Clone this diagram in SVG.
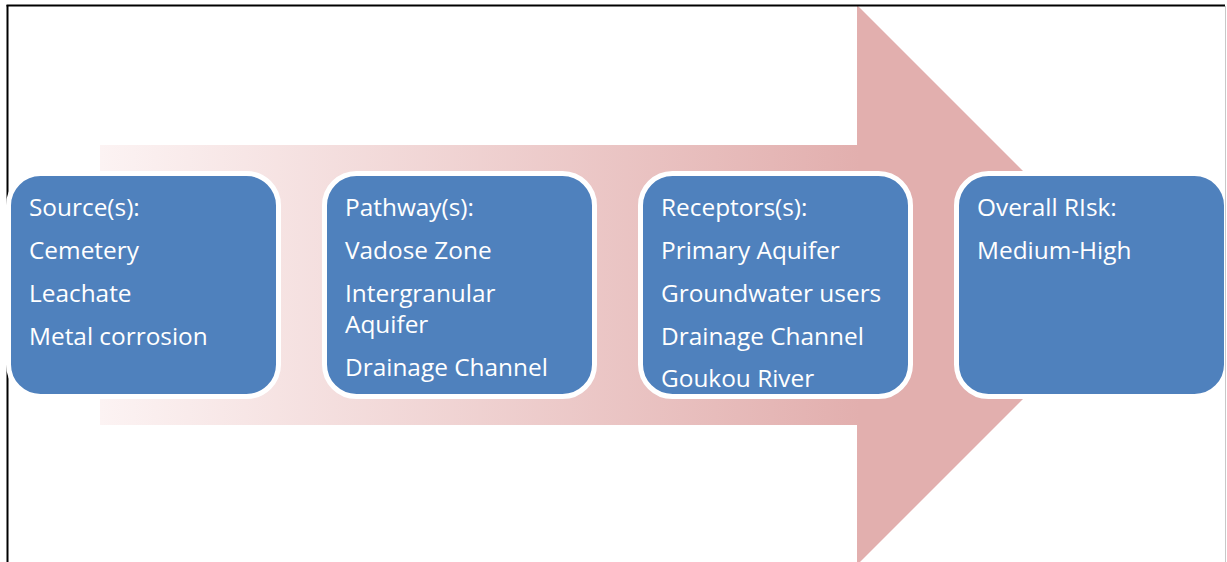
<svg xmlns="http://www.w3.org/2000/svg" width="1227" height="562" viewBox="0 0 1227 562">
  <defs>
    <linearGradient id="flowFill" gradientUnits="userSpaceOnUse" x1="100" y1="0" x2="860" y2="0">
      <stop offset="0" stop-color="#fcf3f3"/>
      <stop offset="1" stop-color="#e2afae"/>
    </linearGradient>
    <style>
      .box { fill: #4f81bd; stroke: #ffffff; stroke-width: 5; }
      .label { fill: #ffffff; font-family: "Open Sans", "Noto Sans", "Liberation Sans", sans-serif; font-size: 24.4px; }
    </style>
  </defs>

  <rect x="0" y="0" width="1227" height="562" fill="#ffffff"/>

  <!-- big process arrow behind the stages -->
  <g id="flow-arrow">
    <path d="M100,145 H857 V5 L1137,285 L857,565 V425 H100 Z" fill="url(#flowFill)"/>
  </g>

  <!-- page frame -->
  <g id="frame">
    <line x1="7.5" y1="5" x2="7.5" y2="562" stroke="#000000" stroke-width="2"/>
    <line x1="6.5" y1="5.5" x2="1225" y2="5.5" stroke="#000000" stroke-width="2"/>
  </g>

  <g id="connectors"></g>

  <g id="node-source">
    <rect class="box" x="8.5" y="173.5" width="270" height="223" rx="32"/>
    <text class="label" x="29" y="216">Source(s):</text>
    <text class="label" x="29" y="259">Cemetery</text>
    <text class="label" x="29" y="302">Leachate</text>
    <text class="label" x="29" y="345">Metal corrosion</text>
  </g>

  <g id="node-pathway">
    <rect class="box" x="324.5" y="173.5" width="270" height="223" rx="32"/>
    <text class="label" x="345" y="216">Pathway(s):</text>
    <text class="label" x="345" y="259">Vadose Zone</text>
    <text class="label" x="345" y="302">Intergranular</text>
    <text class="label" x="345" y="333">Aquifer</text>
    <text class="label" x="345" y="376">Drainage Channel</text>
  </g>

  <g id="node-receptors">
    <rect class="box" x="640.5" y="173.5" width="270" height="223" rx="32"/>
    <text class="label" x="661" y="216">Receptors(s):</text>
    <text class="label" x="661" y="259">Primary Aquifer</text>
    <text class="label" x="661" y="302">Groundwater users</text>
    <text class="label" x="661" y="345">Drainage Channel</text>
    <text class="label" x="661" y="387">Goukou River</text>
  </g>

  <g id="node-risk">
    <rect class="box" x="956.5" y="173.5" width="270" height="223" rx="32"/>
    <text class="label" x="977" y="216">Overall RIsk:</text>
    <text class="label" x="977" y="259">Medium-High</text>
  </g>

  <!-- right frame edge sits over the last stage -->
  <line x1="1225.5" y1="6" x2="1225.5" y2="562" stroke="#c8c8c8" stroke-width="1"/>
</svg>
